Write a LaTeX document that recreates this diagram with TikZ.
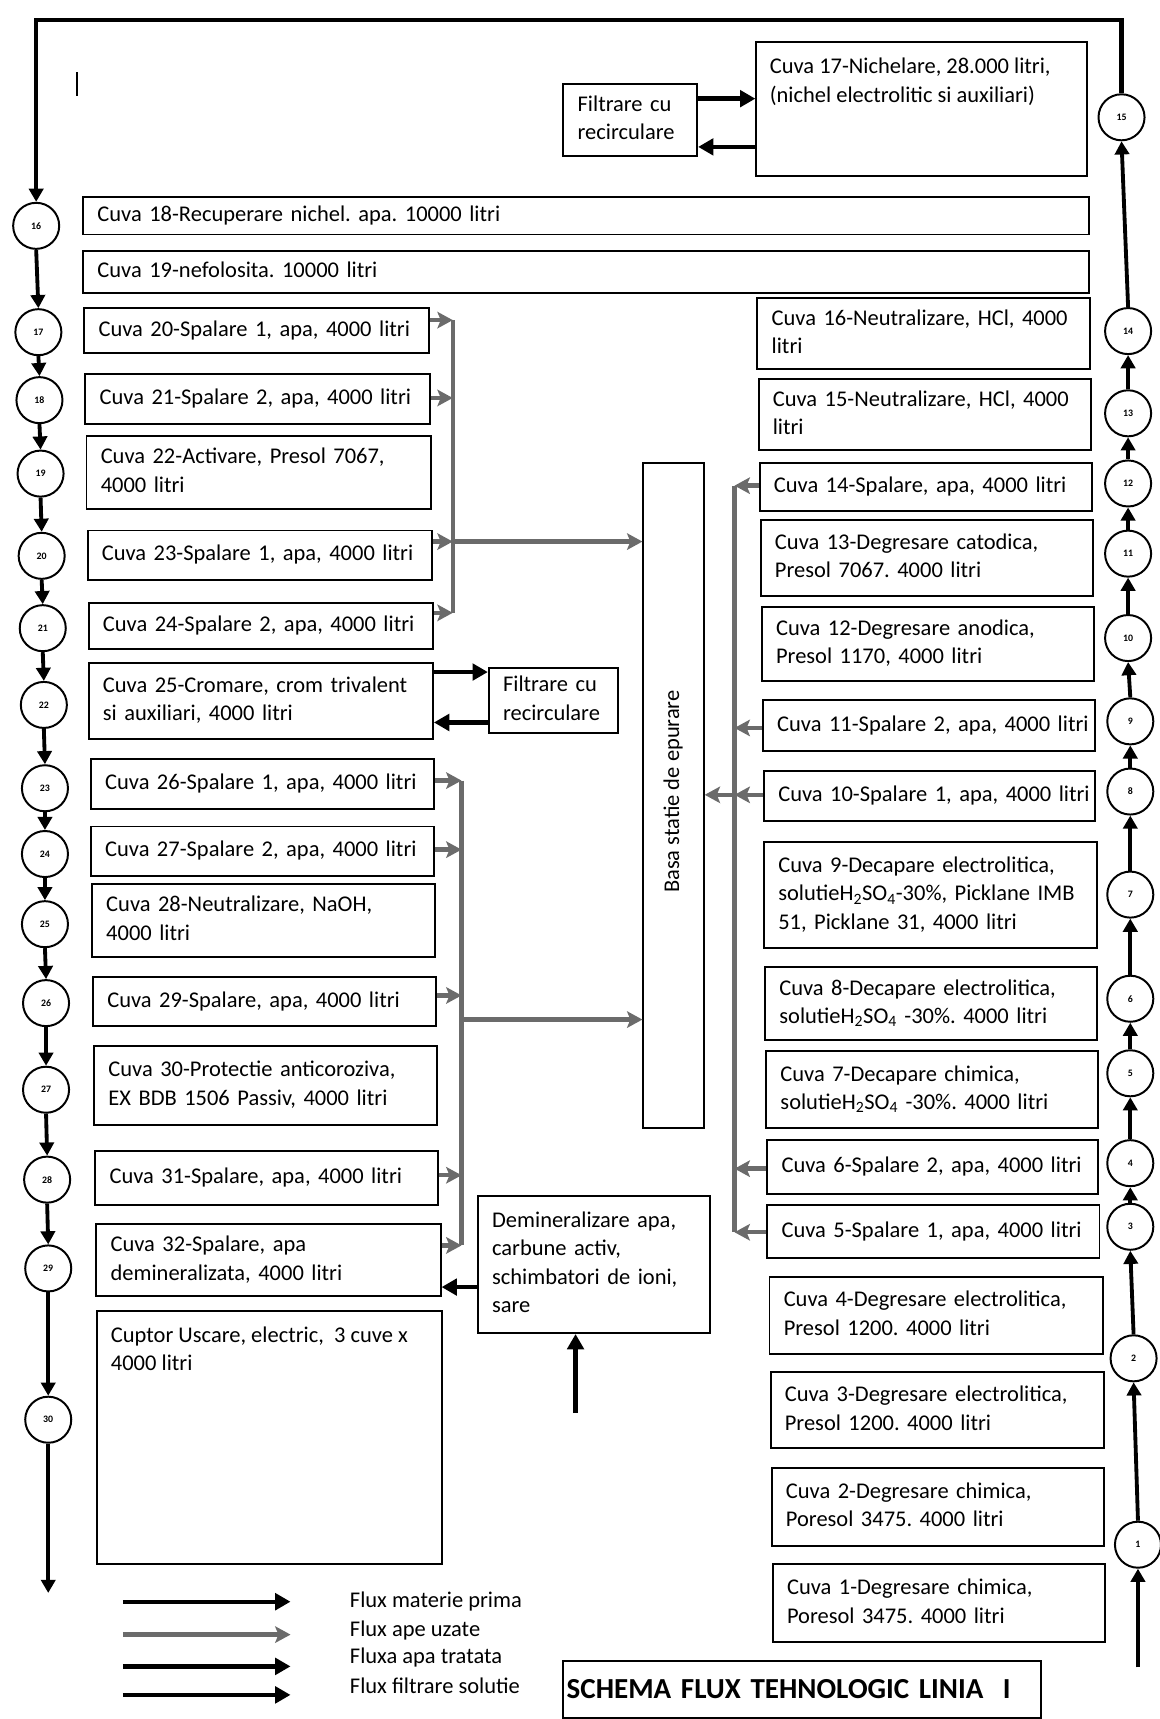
\documentclass[tikz,border=0pt]{standalone}
\usepackage{fontspec}
\setmainfont{Carlito}
\usetikzlibrary{arrows.meta,calc}
\definecolor{wastec}{gray}{0.42}
\newcommand\bxfont{\fontsize{20.5pt}{26pt}\selectfont\frenchspacing}
\newcommand\mybox[6]{%
 \pgfmathsetmacro\bxw{#4-#2}%
 \pgfmathsetmacro\bxh{#5-#3}%
 \pgfmathsetmacro\bxt{#4-#2-26}%
 \node[box,anchor=north west,minimum width=\bxw pt,minimum height=\bxh pt,text width=\bxt pt] (#1) at (#2,#3) {\begin{tabular}{@{}l@{}}#6\end{tabular}};}
\begin{document}
\begin{tikzpicture}[x=1pt,y=-1pt,
  box/.style={draw,line width=1.8pt,inner xsep=13pt,inner ysep=2pt,align=left,font=\bxfont},
  circ/.style={circle,draw,line width=1.8pt,minimum size=42pt,inner sep=0pt,font=\fontsize{9pt}{10pt}\selectfont\bfseries},
  mat/.style={line width=3.5pt,-{Triangle[length=12pt,width=13pt]}},
  matl/.style={line width=3.5pt},
  waste/.style={draw=wastec,line width=4pt,-{Stealth[length=14pt,width=15pt,inset=3pt,fill=wastec]}},
  wl/.style={draw=wastec,line width=4pt},
  filt/.style={line width=4pt,-{Triangle[length=14pt,width=15pt]}},
  lbl/.style={anchor=west,inner sep=0pt,font=\bxfont}]
\useasboundingbox (0,0) rectangle (1058,1568);

% small mark
\draw[line width=1.4pt] (70,66) -- (70,88);

% ---------- boxes ----------
\mybox{c17}{689}{37}{991}{160}{}
\node[anchor=north west,inner sep=0pt,align=left,font=\bxfont] (c17t) at ([xshift=13pt,yshift=-16pt]c17.north west) {Cuva 17-Nichelare, 28.000 litri,\\(nichel electrolitic si auxiliari)};
\mybox{filtT}{513}{76}{635}{141}{Filtrare cu\\recirculare}
\mybox{c18}{75}{179}{992}{213}{Cuva 18-Recuperare nichel. apa. 10000 litri}
\mybox{c19}{75}{228}{992}{266}{Cuva 19-nefolosita. 10000 litri}

\mybox{c20}{76}{280}{390}{321}{Cuva 20-Spalare 1, apa, 4000 litri}
\mybox{c21}{77}{340}{391}{386}{Cuva 21-Spalare 2, apa, 4000 litri}
\mybox{c22}{78}{397}{392}{463}{Cuva 22-Activare, Presol 7067,\\4000 litri}
\mybox{c23}{79}{483}{393}{528}{Cuva 23-Spalare 1, apa, 4000 litri}
\mybox{c24}{80}{549}{394}{591}{Cuva 24-Spalare 2, apa, 4000 litri}
\mybox{c25}{80}{604}{394}{673}{Cuva 25-Cromare, crom trivalent\\si auxiliari, 4000 litri}
\mybox{filtM}{445}{608}{563}{668}{Filtrare cu\\recirculare}
\mybox{c26}{82}{691}{395}{737}{Cuva 26-Spalare 1, apa, 4000 litri}
\mybox{c27}{82}{753}{395}{798}{Cuva 27-Spalare 2, apa, 4000 litri}
\mybox{c28}{83}{805}{396}{872}{Cuva 28-Neutralizare, NaOH,\\4000 litri}
\mybox{c29}{84}{890}{397}{935}{Cuva 29-Spalare, apa, 4000 litri}
\mybox{c30}{85}{953}{398}{1025}{Cuva 30-Protectie anticoroziva,\\EX BDB 1506 Passiv, 4000 litri}
\mybox{c31}{86}{1049}{399}{1098}{Cuva 31-Spalare, apa, 4000 litri}
\mybox{c32}{87}{1116}{401}{1181}{Cuva 32-Spalare, apa\\demineralizata, 4000 litri}
\mybox{cup}{88}{1195}{402}{1426}{}
\node[anchor=north west,inner sep=0pt,align=left,font=\bxfont] (cupt) at ([xshift=13pt,yshift=-15pt]cup.north west) {Cuptor Uscare, electric,~ 3 cuve x\\4000 litri};
\mybox{demin}{435}{1090}{647}{1215}{Demineralizare apa,\\carbune activ,\\schimbatori de ioni,\\sare}
\mybox{basa}{586}{421}{641}{1028}{}
\node[rotate=90,inner sep=0pt,font=\bxfont] (basat) at (614,722) {Basa statie de epurare};

\mybox{c16}{690}{271}{993}{336}{Cuva 16-Neutralizare, HCl, 4000\\litri}
\mybox{c15}{691}{345}{994}{410}{Cuva 15-Neutralizare, HCl, 4000\\litri}
\mybox{c14}{692}{421}{995}{465}{Cuva 14-Spalare, apa, 4000 litri}
\mybox{c13}{693}{473}{996}{543}{Cuva 13-Degresare catodica,\\Presol 7067. 4000 litri}
\mybox{c12}{694}{553}{997}{620}{Cuva 12-Degresare anodica,\\Presol 1170, 4000 litri}
\mybox{c11}{695}{638}{998}{684}{Cuva 11-Spalare 2, apa, 4000 litri}
\mybox{c10}{696}{702}{998}{748}{Cuva 10-Spalare 1, apa, 4000 litri}
\mybox{c9}{696}{767}{1000}{864}{Cuva 9-Decapare electrolitica,\\solutieH\textsubscript{2}SO\textsubscript{4}-30\%, Picklane IMB\\51, Picklane 31, 4000 litri}
\mybox{c8}{697}{881}{1000}{948}{Cuva 8-Decapare electrolitica,\\solutieH\textsubscript{2}SO\textsubscript{4} -30\%. 4000 litri}
\mybox{c7}{698}{958}{1001}{1028}{Cuva 7-Decapare chimica,\\solutieH\textsubscript{2}SO\textsubscript{4} -30\%. 4000 litri}
\mybox{c6}{699}{1039}{1001}{1088}{Cuva 6-Spalare 2, apa, 4000 litri}
\mybox{c5}{699}{1098}{1002}{1147}{Cuva 5-Spalare 1, apa, 4000 litri}
\mybox{c4}{701}{1164}{1005}{1234}{Cuva 4-Degresare electrolitica,\\Presol 1200. 4000 litri}
\mybox{c3}{702}{1251}{1006}{1320}{Cuva 3-Degresare electrolitica,\\Presol 1200. 4000 litri}
\mybox{c2}{703}{1338}{1006}{1409}{Cuva 2-Degresare chimica,\\Poresol 3475. 4000 litri}
\mybox{c1}{704}{1426}{1007}{1497}{Cuva 1-Degresare chimica,\\Poresol 3475. 4000 litri}

\node[draw,line width=1.8pt,anchor=north west,minimum width=436pt,minimum height=52pt,text width=430pt,inner xsep=3pt,align=left,font=\fontsize{26.5pt}{30pt}\selectfont\bfseries] (title) at (513,1514) {SCHEMA FLUX TEHNOLOGIC LINIA~~I};

% ---------- circles ----------
\node[circ] (n16) at (33,206) {16};
\node[circ] (n17) at (35,303) {17};
\node[circ] (n18) at (36,365) {18};
\node[circ] (n19) at (37,432) {19};
\node[circ] (n20) at (38,507) {20};
\node[circ] (n21) at (39,573) {21};
\node[circ] (n22) at (40,643) {22};
\node[circ] (n23) at (41,719) {23};
\node[circ] (n24) at (41,779) {24};
\node[circ] (n25) at (41,843) {25};
\node[circ] (n26) at (42,915) {26};
\node[circ] (n27) at (42,994) {27};
\node[circ] (n28) at (43,1076) {28};
\node[circ] (n29) at (44,1157) {29};
\node[circ] (n30) at (44,1295) {30};

\node[circ] (n1) at (1038,1409) {1};
\node[circ] (n2) at (1034,1239) {2};
\node[circ] (n3) at (1031,1119) {3};
\node[circ] (n4) at (1031,1061) {4};
\node[circ] (n5) at (1031,979) {5};
\node[circ] (n6) at (1031,911) {6};
\node[circ] (n7) at (1031,816) {7};
\node[circ] (n8) at (1031,722) {8};
\node[circ] (n9) at (1031,658) {9};
\node[circ] (n10) at (1029,582) {10};
\node[circ] (n11) at (1029,505) {11};
\node[circ] (n12) at (1029,441) {12};
\node[circ] (n13) at (1029,377) {13};
\node[circ] (n14) at (1029,302) {14};
\node[circ] (n15) at (1023,107) {15};

% ---------- material flow ----------
\coordinate (start) at (1038,1521);
\coordinate (tr) at (1023,18);
\coordinate (tl) at (33,18);
\coordinate (fin) at (44,1453);
\draw[mat] (start) -- (n1.south);
\foreach \a/\b in {1/2,2/3,3/4,4/5,5/6,6/7,7/8,8/9,9/10,10/11,11/12,12/13,13/14,14/15}
  \draw[mat] (n\a.north) -- (n\b.south);
\draw[matl,line width=4pt] (n15.north) -- (tr) -- (tl) -- ([yshift=6pt]n16.north);
\draw[mat,line width=4pt] (tl) -- (n16.north);
\foreach \a/\b in {16/17,17/18,18/19,19/20,20/21,21/22,22/23,23/24,24/25,25/26,26/27,27/28,28/29,29/30}
  \draw[mat] (n\a.south) -- (n\b.north);
\draw[mat] (n30.south) -- (fin);

% ---------- waste water, left top ----------
\coordinate (a20) at (413,292);
\coordinate (a21) at (413,363);
\coordinate (a23) at (413,494);
\coordinate (a24) at (413,559);
\draw[wl] (a20) -- (a24);
\draw[waste] (c20.east |- a20) -- (a20);
\draw[waste] (c21.east |- a21) -- (a21);
\draw[waste] (c23.east |- a23) -- (a23);
\draw[waste] (c24.east |- a24) -- (a24);
\draw[waste] (a23) -- (a23 -| basa.west);

% ---------- waste water, left bottom ----------
\coordinate (b26) at (421,712);
\coordinate (b27) at (421,775);
\coordinate (b29) at (421,908);
\coordinate (bm) at (421,930);
\coordinate (b31) at (421,1072);
\coordinate (b32) at (421,1136);
\draw[wl] (b26) -- (b32);
\draw[waste] (c26.east |- b26) -- (b26);
\draw[waste] (c27.east |- b27) -- (b27);
\draw[waste] (c29.east |- b29) -- (b29);
\draw[waste] (c31.east |- b31) -- (b31);
\draw[waste] (c32.east |- b32) -- (b32);
\draw[waste] (bm) -- (bm -| basa.west);

% ---------- waste water, right ----------
\coordinate (r14) at (670,443);
\coordinate (r11) at (670,664);
\coordinate (r10) at (670,725);
\coordinate (r6) at (670,1066);
\coordinate (r5) at (670,1124);
\draw[wl] (r14) -- (r5);
\draw[waste] (c14.west |- r14) -- (r14);
\draw[waste] (c11.west |- r11) -- (r11);
\draw[waste] (c10.west |- r10) -- (r10);
\draw[waste] (c6.west |- r6) -- (r6);
\draw[waste] (c5.west |- r5) -- (r5);
\draw[waste] (r10) -- (r10 -| basa.east);

% ---------- filtration / treated water ----------
\coordinate (ft1) at (0,90);
\coordinate (ft2) at (0,134);
\draw[filt] (filtT.east |- ft1) -- (c17.west |- ft1);
\draw[filt] (c17.west |- ft2) -- (filtT.east |- ft2);
\coordinate (fm1) at (0,613);
\coordinate (fm2) at (0,659);
\draw[filt] (c25.east |- fm1) -- (filtM.west |- fm1);
\draw[filt] (filtM.west |- fm2) -- (c25.east |- fm2);
\coordinate (dm) at (0,1174);
\draw[filt] (demin.west |- dm) -- (c32.east |- dm);
\coordinate (din) at (525,1289);
\draw[filt] (din) -- (din |- demin.south);

% ---------- legend ----------
\coordinate (l1s) at (112,1461); \coordinate (l1e) at (265,1461);
\coordinate (l2s) at (112,1491); \coordinate (l2e) at (265,1491);
\coordinate (l3s) at (112,1520); \coordinate (l3e) at (265,1520);
\coordinate (l4s) at (112,1546); \coordinate (l4e) at (265,1546);
\draw[filt] (l1s) -- (l1e);
\draw[waste] (l2s) -- (l2e);
\draw[filt] (l3s) -- (l3e);
\draw[filt] (l4s) -- (l4e);
\node[lbl] (t1) at (319,1461) {Flux materie prima};
\node[lbl] (t2) at (319,1487) {Flux ape uzate};
\node[lbl] (t3) at (319,1512) {Fluxa apa tratata};
\node[lbl] (t4) at (319,1538) {Flux filtrare solutie};
\end{tikzpicture}
\end{document}
